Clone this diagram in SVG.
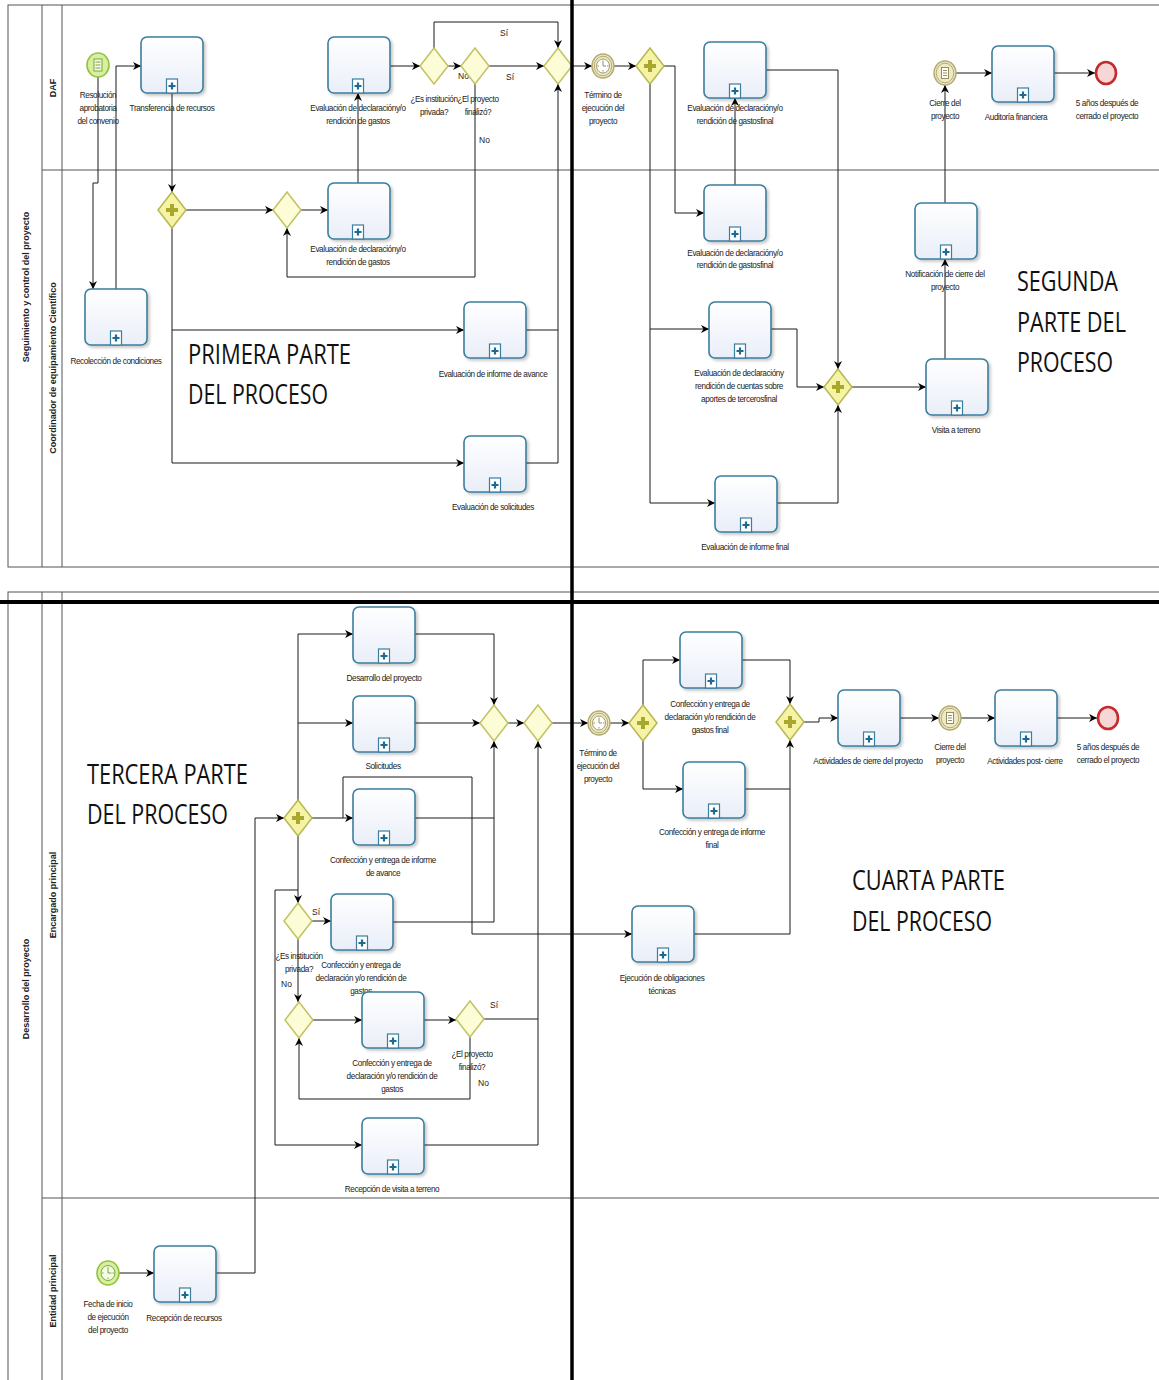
<svg xmlns="http://www.w3.org/2000/svg" xmlns:xlink="http://www.w3.org/1999/xlink" width="1159" height="1380" viewBox="0 0 1159 1380">
<style>
.pool{fill:none;stroke:#555;stroke-width:1}
.sep{stroke:#555;stroke-width:1}
.thick{stroke:#000;stroke-width:3.5}
.box{fill:url(#tg);stroke:#3b7e9e;stroke-width:1.6;filter:url(#sh)}
.gw{fill:#fcfcd6;stroke:#c2c262;stroke-width:1.5}
.pg{fill:#f6f2a6;stroke:#b8b850;stroke-width:1.5}
.pp{stroke:#a8a82c;stroke-width:4;fill:none}
.evs{fill:#d8efa2;stroke:#93c23c;stroke-width:1.6}
.evi{fill:#eee8c4;stroke:#b3ab74;stroke-width:1.4}
.evr{fill:none;stroke:#b3ab74;stroke-width:1}
.eve{fill:#f7d6d6;stroke:#c42a2e;stroke-width:2.6}
.ico{fill:#fff;stroke:#8a8450;stroke-width:0.9}
.icog{fill:#f4fbe4;stroke:#6f9e2c;stroke-width:0.9}
.cn{fill:none;stroke:#1a1a1a;stroke-width:1;marker-end:url(#ah)}
.cj{fill:none;stroke:#1a1a1a;stroke-width:1}
.t{font-family:"Liberation Sans",Arial,sans-serif;font-size:8.2px;fill:#222;text-anchor:middle;letter-spacing:-0.4px}
.tl{font-family:"Liberation Sans",Arial,sans-serif;font-size:8.5px;fill:#222;text-anchor:start}
.lane{font-family:"Liberation Sans",Arial,sans-serif;font-size:9px;font-weight:bold;fill:#222;text-anchor:middle}
.big{font-family:"Open Sans","Liberation Sans",sans-serif;font-size:27px;fill:#111}
</style>
<defs>
<linearGradient id="tg" x1="0" y1="0" x2="0" y2="1"><stop offset="0" stop-color="#ffffff"/><stop offset="1" stop-color="#e9eef8"/></linearGradient>
<filter id="sh" x="-10%" y="-10%" width="130%" height="130%"><feDropShadow dx="2" dy="2" stdDeviation="1.5" flood-color="#000" flood-opacity="0.22"/></filter>
<marker id="ah" viewBox="0 0 10 10" refX="10" refY="5" markerWidth="8" markerHeight="8" markerUnits="userSpaceOnUse" orient="auto"><path d="M0,0 L10,5 L0,10 L3,5 z" fill="#000"/></marker>
<g id="pm"><rect x="-5.5" y="-14" width="11" height="14" fill="#fff" stroke="#3b7e9e" stroke-width="1.2"/><path d="M-3.5,-7 h7 M0,-10.5 v7" stroke="#1f6a93" stroke-width="2.2"/></g>
<g id="clock"><ellipse cx="0" cy="0" rx="6.5" ry="7" fill="#fff" stroke="#9a9460" stroke-width="0.9"/><path d="M0,-5.5 v1.5 M0,5.5 v-1.5 M-5.5,0 h1.5 M5.5,0 h-1.5 M0,0 v-4 M0,0 h3" stroke="#8a8450" stroke-width="0.9" fill="none"/></g>
<g id="clockg"><ellipse cx="0" cy="0" rx="7" ry="7.5" fill="#f4fbe4" stroke="#6f9e2c" stroke-width="0.9"/><path d="M0,-6 v1.5 M0,6 v-1.5 M-6,0 h1.5 M6,0 h-1.5 M0,0 v-4.5 M0,0 h3.5" stroke="#6f9e2c" stroke-width="0.9" fill="none"/></g>
<g id="cond"><rect x="-3.5" y="-5.5" width="7" height="11" class="ico"/><path d="M-2,-2.5 h4 M-2,0 h4 M-2,2.5 h4" stroke="#8a8450" stroke-width="0.9"/></g>
<g id="condg"><rect x="-4" y="-6" width="8" height="12" class="icog"/><path d="M-2.5,-3 h5 M-2.5,0 h5 M-2.5,3 h5" stroke="#6f9e2c" stroke-width="0.9"/></g>
</defs>
<rect width="1159" height="1380" fill="#fff"/>

<g id="pools">
<rect class="pool" x="8" y="5" width="1160" height="562"/>
<line class="sep" x1="42" y1="5" x2="42" y2="567"/>
<line class="sep" x1="62" y1="5" x2="62" y2="567"/>
<line class="sep" x1="42" y1="170" x2="1159" y2="170"/>
<text class="lane" transform="translate(29,287) rotate(-90)">Seguimiento y control del proyecto</text>
<text class="lane" transform="translate(56,88) rotate(-90)">DAF</text>
<text class="lane" transform="translate(56,368) rotate(-90)">Coordinador de equipamiento Científico</text>
<rect class="pool" x="8" y="592" width="1160" height="800"/>
<line class="sep" x1="42" y1="592" x2="42" y2="1380"/>
<line class="sep" x1="62" y1="592" x2="62" y2="1380"/>
<line class="sep" x1="42" y1="1198" x2="1159" y2="1198"/>
<text class="lane" transform="translate(29,989) rotate(-90)">Desarrollo del proyecto</text>
<text class="lane" transform="translate(56,895) rotate(-90)">Encargado principal</text>
<text class="lane" transform="translate(56,1291) rotate(-90)">Entidad principal</text>
</g>

<g id="connectors">
<polyline class="cn" points="98,77 98,183 93,183 93,289"/>
<polyline class="cn" points="116,289 116,66 141,66"/>
<polyline class="cn" points="172,93 172,192"/>
<polyline class="cn" points="186,210 273,210"/>
<polyline class="cn" points="301,210 328,210"/>
<polyline class="cn" points="358,183 358,93"/>
<polyline class="cn" points="389,66 420,66"/>
<polyline class="cn" points="434,48 434,22 558,22 558,48"/>
<polyline class="cn" points="448,66 461,66"/>
<polyline class="cn" points="489,66 544,66"/>
<polyline class="cn" points="475,84 475,277 287,277 287,228"/>
<polyline class="cn" points="525,330 558,330 558,84"/>
<polyline class="cj" points="525,463 558,463 558,330"/>
<polyline class="cn" points="172,228 172,330 464,330"/>
<polyline class="cn" points="172,330 172,463 464,463"/>
<polyline class="cn" points="572,66 592,66"/>
<polyline class="cn" points="614,66 636,66"/>
<polyline class="cn" points="664,66 675,66 675,213 704,213"/>
<polyline class="cn" points="650,84 650,329 709,329"/>
<polyline class="cn" points="650,329 650,503 715,503"/>
<polyline class="cn" points="735,185 735,98"/>
<polyline class="cn" points="766,70 838,70 838,369"/>
<polyline class="cn" points="771,329 797,329 797,387 824,387"/>
<polyline class="cn" points="777,503 838,503 838,405"/>
<polyline class="cn" points="852,387 926,387"/>
<polyline class="cn" points="945,359 945,259"/>
<polyline class="cn" points="945,203 945,85"/>
<polyline class="cn" points="956,73 992,73"/>
<polyline class="cn" points="1054,73 1095,73"/>

<polyline class="cn" points="119,1273 154,1273"/>
<polyline class="cn" points="216,1273 255,1273 255,818 284,818"/>
<polyline class="cn" points="298,800 298,634 353,634"/>
<polyline class="cn" points="298,723 353,723"/>
<polyline class="cn" points="312,818 353,818"/>
<polyline class="cn" points="343,818 343,777 472,777 472,934 632,934"/>
<polyline class="cn" points="415,634 494,634 494,705"/>
<polyline class="cn" points="415,723 480,723"/>
<polyline class="cn" points="415,818 494,818 494,741"/>
<polyline class="cj" points="392,922 494,922 494,818"/>
<polyline class="cn" points="508,723 524,723"/>
<polyline class="cn" points="552,723 588,723"/>
<polyline class="cn" points="610,723 629,723"/>
<polyline class="cn" points="643,705 643,660 680,660"/>
<polyline class="cn" points="643,741 643,789 683,789"/>
<polyline class="cn" points="742,660 790,660 790,704"/>
<polyline class="cn" points="745,789 790,789 790,740"/>
<polyline class="cj" points="694,934 790,934 790,789"/>
<polyline class="cn" points="804,722 819,722 819,718 838,718"/>
<polyline class="cn" points="900,718 939,718"/>
<polyline class="cn" points="961,718 995,718"/>
<polyline class="cn" points="1057,718 1097,718"/>
<polyline class="cn" points="298,836 298,903"/>
<polyline class="cn" points="298,890 275,890 275,1145 362,1145"/>
<polyline class="cn" points="312,921 331,921"/>
<polyline class="cn" points="298,939 298,1002"/>
<polyline class="cn" points="312,1020 362,1020"/>
<polyline class="cn" points="424,1020 456,1020"/>
<polyline class="cj" points="484,1019 538,1019"/>
<polyline class="cn" points="470,1037 470,1099 299,1099 299,1038"/>
<polyline class="cn" points="424,1145 538,1145 538,741"/>

<text class="tl" x="500" y="36">Sí</text>
<text class="tl" x="458" y="79">No</text>
<text class="tl" x="506" y="80">Sí</text>
<text class="tl" x="479" y="143">No</text>
<text class="tl" x="312" y="915">Sí</text>
<text class="tl" x="281" y="987">No</text>
<text class="tl" x="490" y="1008">Sí</text>
<text class="tl" x="478" y="1086">No</text>
</g>

<g id="e-resolucion"><ellipse class="evs" cx="98" cy="65" rx="11" ry="12"/><use href="#condg" x="98" y="65"/><text class="t" x="98" y="98">Resolución</text><text class="t" x="98" y="111">aprobatoria</text><text class="t" x="98" y="124">del convenio</text></g>
<g id="t-transferencia"><rect class="box" x="141" y="37" width="62" height="56" rx="6"/><use href="#pm" x="172" y="93"/><text class="t" x="172" y="111">Transferencia de recursos</text></g>
<g id="t-recoleccion"><rect class="box" x="85" y="289" width="62" height="56" rx="6"/><use href="#pm" x="116" y="345"/><text class="t" x="116" y="364">Recolección de condiciones</text></g>
<g id="g1"><polygon class="pg" points="172,192 186,210 172,228 158,210"/><path class="pp" d="M166,210 h12 M172,204 v12"/></g>
<g id="g2"><polygon class="gw" points="287,192 301,210 287,228 273,210"/></g>
<g id="t-eval-daf"><rect class="box" x="328" y="37" width="62" height="56" rx="6"/><use href="#pm" x="358" y="93"/><text class="t" x="358" y="111">Evaluación de declaracióny/o</text><text class="t" x="358" y="124">rendición de gastos</text></g>
<g id="t-eval-coord"><rect class="box" x="328" y="183" width="62" height="56" rx="6"/><use href="#pm" x="358" y="239"/><text class="t" x="358" y="252">Evaluación de declaracióny/o</text><text class="t" x="358" y="265">rendición de gastos</text></g>
<g id="g3"><polygon class="gw" points="434,48 448,66 434,84 420,66"/><text class="t" x="434" y="102">¿Es institución</text><text class="t" x="434" y="115">privada?</text></g>
<g id="g4"><polygon class="gw" points="475,48 489,66 475,84 461,66"/><text class="t" x="478" y="102">¿El proyecto</text><text class="t" x="478" y="115">finalizó?</text></g>
<g id="g5"><polygon class="gw" points="558,48 572,66 558,84 544,66"/></g>
<g id="t-avance"><rect class="box" x="464" y="302" width="62" height="56" rx="6"/><use href="#pm" x="495" y="358"/><text class="t" x="493" y="377">Evaluación de informe de avance</text></g>
<g id="t-solicitudes"><rect class="box" x="464" y="436" width="62" height="56" rx="6"/><use href="#pm" x="495" y="492"/><text class="t" x="493" y="510">Evaluación de solicitudes</text></g>
<g id="e-termino1"><ellipse class="evi" cx="603" cy="66" rx="11" ry="12"/><ellipse class="evr" cx="603" cy="66" rx="8.8" ry="9.8"/><use href="#clock" x="603" y="66"/><text class="t" x="603" y="98">Término de</text><text class="t" x="603" y="111">ejecución del</text><text class="t" x="603" y="124">proyecto</text></g>
<g id="g6"><polygon class="pg" points="650,48 664,66 650,84 636,66"/><path class="pp" d="M644,66 h12 M650,60 v12"/></g>
<g id="t-evalfin-daf"><rect class="box" x="704" y="42" width="62" height="56" rx="6"/><use href="#pm" x="735" y="98"/><text class="t" x="735" y="111">Evaluación de declaracióny/o</text><text class="t" x="735" y="124">rendición de gastosfinal</text></g>
<g id="t-evalfin-coord"><rect class="box" x="704" y="185" width="62" height="56" rx="6"/><use href="#pm" x="735" y="241"/><text class="t" x="735" y="256">Evaluación de declaracióny/o</text><text class="t" x="735" y="268">rendición de gastosfinal</text></g>
<g id="t-terceros"><rect class="box" x="709" y="302" width="62" height="56" rx="6"/><use href="#pm" x="740" y="358"/><text class="t" x="739" y="376">Evaluación de declaracióny</text><text class="t" x="739" y="389">rendición de cuentas sobre</text><text class="t" x="739" y="402">aportes de tercerosfinal</text></g>
<g id="t-informefinal"><rect class="box" x="715" y="476" width="62" height="56" rx="6"/><use href="#pm" x="746" y="532"/><text class="t" x="745" y="550">Evaluación de informe final</text></g>
<g id="g7"><polygon class="pg" points="838,369 852,387 838,405 824,387"/><path class="pp" d="M832,387 h12 M838,381 v12"/></g>
<g id="t-visita"><rect class="box" x="926" y="359" width="62" height="56" rx="6"/><use href="#pm" x="957" y="415"/><text class="t" x="956" y="433">Visita a terreno</text></g>
<g id="t-notificacion"><rect class="box" x="915" y="203" width="62" height="56" rx="6"/><use href="#pm" x="946" y="259"/><text class="t" x="945" y="277">Notificación de cierre del</text><text class="t" x="945" y="290">proyecto</text></g>
<g id="e-cierre1"><ellipse class="evi" cx="945" cy="73" rx="11" ry="12"/><ellipse class="evr" cx="945" cy="73" rx="8.8" ry="9.8"/><use href="#cond" x="945" y="73"/><text class="t" x="945" y="106">Cierre del</text><text class="t" x="945" y="119">proyecto</text></g>
<g id="t-auditoria"><rect class="box" x="992" y="46" width="62" height="56" rx="6"/><use href="#pm" x="1023" y="102"/><text class="t" x="1016" y="120">Auditoría financiera</text></g>
<g id="e-fin1"><ellipse class="eve" cx="1106" cy="73" rx="10" ry="11"/><text class="t" x="1107" y="106">5 años después de</text><text class="t" x="1107" y="119">cerrado el proyecto</text></g>

<g id="e-fechainicio"><ellipse class="evs" cx="108" cy="1273" rx="11" ry="12"/><use href="#clockg" x="108" y="1273"/><text class="t" x="108" y="1307">Fecha de inicio</text><text class="t" x="108" y="1320">de ejecución</text><text class="t" x="108" y="1333">del proyecto</text></g>
<g id="t-recepcionrecursos"><rect class="box" x="154" y="1246" width="62" height="56" rx="6"/><use href="#pm" x="185" y="1302"/><text class="t" x="184" y="1321">Recepción de recursos</text></g>
<g id="g8"><polygon class="pg" points="298,800 312,818 298,836 284,818"/><path class="pp" d="M292,818 h12 M298,812 v12"/></g>
<g id="t-desarrollo"><rect class="box" x="353" y="607" width="62" height="56" rx="6"/><use href="#pm" x="384" y="663"/><text class="t" x="384" y="681">Desarrollo del proyecto</text></g>
<g id="t-solicitudes2"><rect class="box" x="353" y="696" width="62" height="56" rx="6"/><use href="#pm" x="384" y="752"/><text class="t" x="383" y="769">Solicitudes</text></g>
<g id="t-informeavance"><rect class="box" x="353" y="789" width="62" height="56" rx="6"/><use href="#pm" x="384" y="845"/><text class="t" x="383" y="863">Confección y entrega de informe</text><text class="t" x="383" y="876">de avance</text></g>
<g id="g9"><polygon class="gw" points="494,705 508,723 494,741 480,723"/></g>
<g id="g10"><polygon class="gw" points="538,705 552,723 538,741 524,723"/></g>
<g id="g14"><polygon class="gw" points="298,903 312,921 298,939 284,921"/><text class="t" x="299" y="959">¿Es institución</text><text class="t" x="299" y="972">privada?</text></g>
<g id="t-decl1"><rect class="box" x="331" y="894" width="62" height="56" rx="6"/><use href="#pm" x="362" y="950"/><text class="t" x="361" y="968">Confección y entrega de</text><text class="t" x="361" y="981">declaración y/o rendición de</text><text class="t" x="361" y="994">gastos</text></g>
<g id="g15"><polygon class="gw" points="299,1002 313,1020 299,1038 285,1020"/></g>
<g id="t-decl2"><rect class="box" x="362" y="992" width="62" height="56" rx="6"/><use href="#pm" x="393" y="1048"/><text class="t" x="392" y="1066">Confección y entrega de</text><text class="t" x="392" y="1079">declaración y/o rendición de</text><text class="t" x="392" y="1092">gastos</text></g>
<g id="g16"><polygon class="gw" points="470,1001 484,1019 470,1037 456,1019"/><text class="t" x="472" y="1057">¿El proyecto</text><text class="t" x="472" y="1070">finalizó?</text></g>
<g id="t-recepcionvisita"><rect class="box" x="362" y="1118" width="62" height="56" rx="6"/><use href="#pm" x="393" y="1174"/><text class="t" x="392" y="1192">Recepción de visita a terreno</text></g>
<g id="t-ejecucion"><rect class="box" x="632" y="906" width="62" height="56" rx="6"/><use href="#pm" x="663" y="962"/><text class="t" x="662" y="981">Ejecución de obligaciones</text><text class="t" x="662" y="994">técnicas</text></g>
<g id="e-termino2"><ellipse class="evi" cx="599" cy="723" rx="11" ry="12"/><ellipse class="evr" cx="599" cy="723" rx="8.8" ry="9.8"/><use href="#clock" x="599" y="723"/><text class="t" x="598" y="756">Término de</text><text class="t" x="598" y="769">ejecución del</text><text class="t" x="598" y="782">proyecto</text></g>
<g id="g13"><polygon class="pg" points="643,705 657,723 643,741 629,723"/><path class="pp" d="M637,723 h12 M643,717 v12"/></g>
<g id="t-declfinal"><rect class="box" x="680" y="632" width="62" height="56" rx="6"/><use href="#pm" x="711" y="688"/><text class="t" x="710" y="707">Confección y entrega de</text><text class="t" x="710" y="720">declaración y/o rendición de</text><text class="t" x="710" y="733">gastos final</text></g>
<g id="t-informefinal2"><rect class="box" x="683" y="762" width="62" height="56" rx="6"/><use href="#pm" x="714" y="818"/><text class="t" x="712" y="835">Confección y entrega de informe</text><text class="t" x="712" y="848">final</text></g>
<g id="g11"><polygon class="pg" points="790,704 804,722 790,740 776,722"/><path class="pp" d="M784,722 h12 M790,716 v12"/></g>
<g id="t-actcierre"><rect class="box" x="838" y="690" width="62" height="56" rx="6"/><use href="#pm" x="869" y="746"/><text class="t" x="868" y="764">Actividades de cierre del proyecto</text></g>
<g id="e-cierre2"><ellipse class="evi" cx="950" cy="718" rx="11" ry="12"/><ellipse class="evr" cx="950" cy="718" rx="8.8" ry="9.8"/><use href="#cond" x="950" y="718"/><text class="t" x="950" y="750">Cierre del</text><text class="t" x="950" y="763">proyecto</text></g>
<g id="t-postcierre"><rect class="box" x="995" y="690" width="62" height="56" rx="6"/><use href="#pm" x="1026" y="746"/><text class="t" x="1025" y="764">Actividades post- cierre</text></g>
<g id="e-fin2"><ellipse class="eve" cx="1108" cy="718" rx="10" ry="11"/><text class="t" x="1108" y="750">5 años después de</text><text class="t" x="1108" y="763">cerrado el proyecto</text></g>

<g id="titles">
<text class="big" x="188" y="364" textLength="163" lengthAdjust="spacingAndGlyphs">PRIMERA PARTE</text>
<text class="big" x="188" y="404" textLength="140" lengthAdjust="spacingAndGlyphs">DEL PROCESO</text>
<text class="big" x="1017" y="291" textLength="101" lengthAdjust="spacingAndGlyphs">SEGUNDA</text>
<text class="big" x="1017" y="332" textLength="109" lengthAdjust="spacingAndGlyphs">PARTE DEL</text>
<text class="big" x="1017" y="372" textLength="96" lengthAdjust="spacingAndGlyphs">PROCESO</text>
<text class="big" x="87" y="784" textLength="161" lengthAdjust="spacingAndGlyphs">TERCERA PARTE</text>
<text class="big" x="87" y="824" textLength="141" lengthAdjust="spacingAndGlyphs">DEL PROCESO</text>
<text class="big" x="852" y="890" textLength="153" lengthAdjust="spacingAndGlyphs">CUARTA PARTE</text>
<text class="big" x="852" y="931" textLength="140" lengthAdjust="spacingAndGlyphs">DEL PROCESO</text>
</g>

<g id="dividers">
<line class="thick" x1="572" y1="0" x2="572" y2="1380"/>
<line class="thick" x1="0" y1="602" x2="1159" y2="602" style="stroke-width:4"/>
</g>
</svg>
